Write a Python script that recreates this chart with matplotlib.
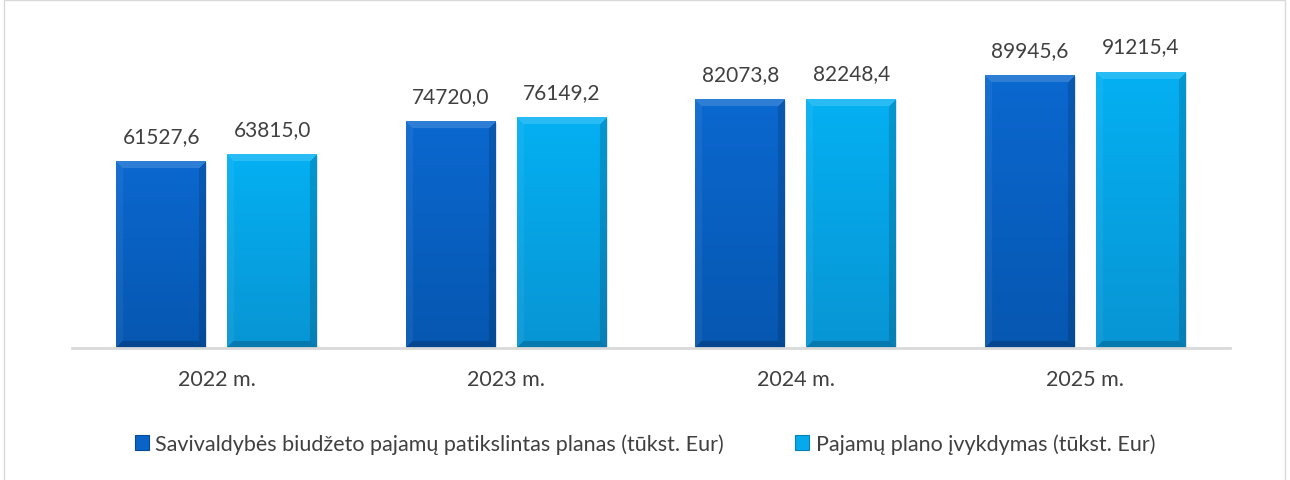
import numpy as np
import matplotlib.pyplot as plt
from matplotlib.patches import Rectangle
from matplotlib.colors import to_rgb

years = ["2022 m.", "2023 m.", "2024 m.", "2025 m."]
planas = [61527.6, 74720.0, 82073.8, 89945.6]
ivykdymas = [63815.0, 76149.2, 82248.4, 91215.4]
series_names = ["Savivaldybės biudžeto pajamų patikslintas planas (tūkst. Eur)",
                "Pajamų plano įvykdymas (tūkst. Eur)"]

plt.rcParams['font.family'] = ['Lato', 'DejaVu Sans']
txt_color = '#404040'

fig = plt.figure(figsize=(12.9, 4.81), dpi=100)
ax = fig.add_axes([0.0558, 0.2744, 0.8977, 0.629])

x = np.arange(len(years))
w = 0.31
off = 0.192
b1 = ax.bar(x - off, planas, w, color='#0a63c6')
b2 = ax.bar(x + off, ivykdymas, w, color='#06aaec')

ax.set_xlim(-0.5, len(years) - 0.5)
ax.set_ylim(0, 100000)
for s in ['top', 'right', 'left']:
    ax.spines[s].set_visible(False)
ax.spines['bottom'].set_color('#d9d9d9')
ax.spines['bottom'].set_linewidth(2)
ax.set_yticks([])
ax.set_xticks(x)
ax.set_xticklabels(years, fontsize=15.5, color=txt_color)
ax.tick_params(axis='x', length=0, pad=15)


def bevel(wp, hp, top_c, bot_c, bw=7):
    top_c = np.array(to_rgb(top_c))
    bot_c = np.array(to_rgb(bot_c))
    t = np.linspace(0, 1, hp)[:, None, None]
    img = top_c * (1 - t) + bot_c * t
    img = np.repeat(img, wp, axis=1)
    yy, xx = np.mgrid[0:hp, 0:wp]
    d = np.stack([yy, hp - 1 - yy, xx, wp - 1 - xx])
    which = d.argmin(axis=0)
    edge = d.min(axis=0) < bw
    factors = [1.15, 0.82, 1.05, 0.86]
    for k, f in enumerate(factors):
        m = edge & (which == k)
        if f > 1:
            img[m] = img[m] + (1 - img[m]) * (f - 1)
        else:
            img[m] = img[m] * f
    return np.clip(img, 0, 1)


fig.canvas.draw()
for bars, (tc, bc) in [(b1, ('#0b68cf', '#0657b0')), (b2, ('#04b0f2', '#0895d4'))]:
    for r in bars:
        x0, y0 = r.get_x(), r.get_y()
        x1, y1 = x0 + r.get_width(), y0 + r.get_height()
        p0 = ax.transData.transform((x0, y0))
        p1 = ax.transData.transform((x1, y1))
        wp, hp = int(abs(p1[0] - p0[0])), int(abs(p1[1] - p0[1]))
        # soft shadow
        ax.add_patch(Rectangle((x0 + 0.004, y0), r.get_width(), r.get_height() - 300,
                               color='#000000', alpha=0.12, zorder=1.5, lw=0))
        ax.imshow(bevel(wp, hp, tc, bc), extent=(x0, x1, y0, y1), aspect='auto',
                  zorder=2.5, interpolation='bilinear')
        ax.text(r.get_x() + r.get_width() / 2, y1 + 5200,
                f"{r.get_height():.1f}".replace('.', ','),
                ha='center', va='bottom', fontsize=15, color=txt_color)

ax.set_xlim(-0.5, len(years) - 0.5)
ax.set_ylim(0, 100000)

handles = [Rectangle((0, 0), 1, 1, fc='#0a63c6', ec='#064a96', lw=0.8),
           Rectangle((0, 0), 1, 1, fc='#06aaec', ec='#0680b8', lw=0.8)]
fig.legend(handles, series_names, loc='center', bbox_to_anchor=(0.5, 0.075),
           ncol=2, frameon=False, fontsize=15.5, labelcolor=txt_color,
           handlelength=0.65, handleheight=0.65, handletextpad=0.3,
           columnspacing=3.3)

fig.patches.append(Rectangle((0.0031, -0.05), 0.993, 1.048, transform=fig.transFigure,
                             fill=False, ec='#d9d9d9', lw=1))

fig.savefig('out.png', dpi=100)
